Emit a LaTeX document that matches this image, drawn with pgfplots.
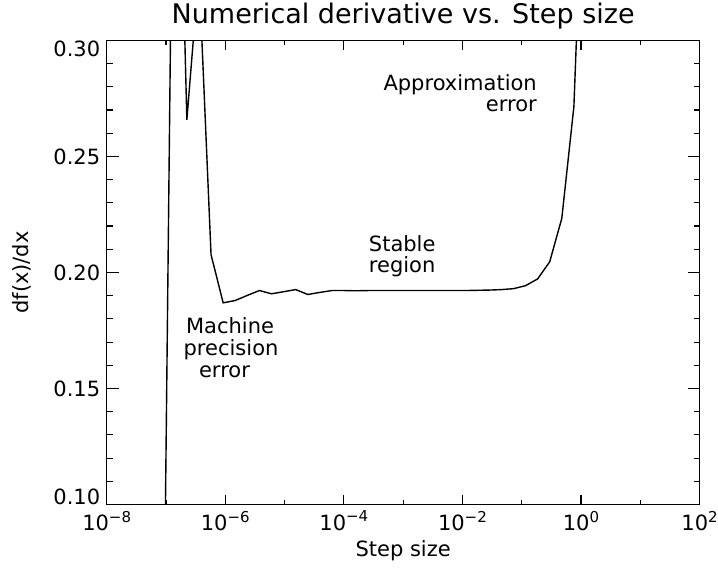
\documentclass[border=0pt]{standalone}
\usepackage{pgfplots}
\pgfplotsset{compat=1.18}
\usepackage{fontspec}
\setmainfont{DejaVu Sans}
\newcommand\tp[1]{10\raisebox{0.42em}{\fontsize{15}{15}\selectfont #1}}
\begin{document}
\begin{tikzpicture}[font=\fontsize{21}{25}\selectfont]
\useasboundingbox (-106.7pt,-67.5pt) rectangle (611.3pt,504.5pt);
\begin{axis}[
  scale only axis, width=592.9pt, height=464.1pt,
  xmode=log, xmin=1e-8, xmax=1e2, ymin=0.10, ymax=0.30,
  xtick={1e-8,1e-6,1e-4,1e-2,1,1e2},
  xticklabels={{\tp{−8}},{\tp{−6}},{\tp{−4}},{\tp{−2}},{\tp{0}},{\tp{2}}},
  minor xtick={1e-7,1e-5,1e-3,1e-1,1e1},
  ytick={0.10,0.15,0.20,0.25,0.30},
  yticklabels={{\raisebox{8pt}[\height][\depth]{0.10}},{0.15},{0.20},{0.25},{\raisebox{-8.6pt}[\height][\depth]{0.30}}},
  minor y tick num=4,
  tick pos=both, tick align=inside,
  xtick style={/pgfplots/major tick length=9.3pt,/pgfplots/minor tick length=4.6pt},
  ytick style={/pgfplots/major tick length=11.9pt,/pgfplots/minor tick length=5.9pt},
  every tick/.append style={black, line width=1.1pt},
  axis line style={line width=1.1pt},
  tick label style={font=\fontsize{21}{25}\selectfont},
  yticklabel style={xshift=-3pt},
  xticklabel style={yshift=-3pt},
  label style={font=\fontsize{21}{25}\selectfont},
  title style={font=\fontsize{27}{31}\selectfont, at={(axis description cs:0.5,1)}, anchor=base, yshift=10.6pt},
  title={Numerical derivative vs. Step size},
  xlabel={Step size},
  xlabel style={at={(axis description cs:0.5,0)}, anchor=center, yshift=-46.5pt},
  ylabel={df(x)/dx},
  ylabel style={at={(axis description cs:-0.1429,0.5)}, anchor=center},
]
\addplot[black, line width=1.4pt, mark=none] coordinates {
(8.79e-8,-0.012)
(1.406e-7,0.472)
(2.249e-7,0.2658)
(3.597e-7,0.330)
(5.754e-7,0.2077)
(9.204e-7,0.1869)
(1.472e-6,0.1879)
(2.355e-6,0.1901)
(3.767e-6,0.1922)
(6.026e-6,0.1908)
(9.638e-6,0.1917)
(1.542e-5,0.1926)
(2.466e-5,0.1905)
(3.945e-5,0.1914)
(6.310e-5,0.1922)
(1.009e-4,0.1922)
(1.614e-4,0.1921)
(2.582e-4,0.1922)
(4.130e-4,0.1922)
(6.607e-4,0.1922)
(1.057e-3,0.1922)
(1.690e-3,0.1922)
(2.704e-3,0.1922)
(4.325e-3,0.1922)
(6.918e-3,0.1922)
(1.107e-2,0.1922)
(1.770e-2,0.1923)
(2.831e-2,0.1924)
(4.529e-2,0.1926)
(7.244e-2,0.1930)
(1.159e-1,0.1943)
(1.854e-1,0.1972)
(2.965e-1,0.2046)
(4.742e-1,0.2233)
(7.586e-1,0.2715)
(1.213,0.41)
(1.941,0.75)
};
\node[anchor=base east, inner sep=0pt] at (rel axis cs:0.7257,0.8910) {Approximation};
\node[anchor=base east, inner sep=0pt] at (rel axis cs:0.7257,0.8457) {error};
\node[anchor=base west, inner sep=0pt] at (rel axis cs:0.4420,0.5441) {Stable};
\node[anchor=base west, inner sep=0pt] at (rel axis cs:0.4420,0.4988) {region};
\node[anchor=base, inner sep=0pt] at (rel axis cs:0.2080,0.3674) {Machine};
\node[anchor=base, inner sep=0pt] at (rel axis cs:0.2097,0.3200) {precision};
\node[anchor=base, inner sep=0pt] at (rel axis cs:0.1987,0.2747) {error};
\end{axis}
\end{tikzpicture}
\end{document}
